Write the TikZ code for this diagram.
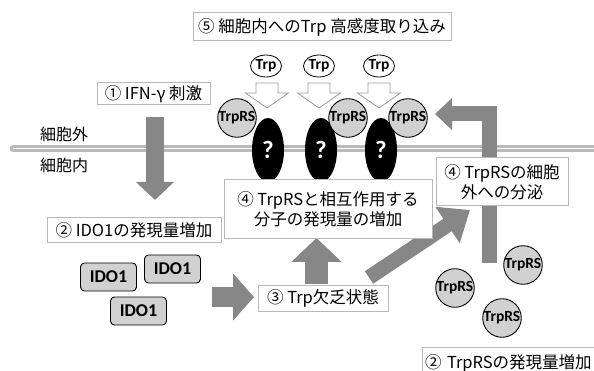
\documentclass[tikz,border=0pt]{standalone}
\usepackage{fontspec}
\setmainfont{Noto Sans CJK JP}
\newfontfamily\labfont{Carlito}
\usetikzlibrary{arrows.meta,shapes.geometric}
\begin{document}
\begin{tikzpicture}[x=1pt,y=-1pt,
  txtbox/.style={draw=black!28, line width=1pt, fill=white, inner sep=0pt,
    font=\fontsize{16.5}{20}\selectfont, align=center},
  trpc/.style={ellipse, draw, line width=0.8pt, fill=white, minimum width=31pt,
    minimum height=22pt, inner sep=0pt, font=\labfont\bfseries\fontsize{15.5}{16}\selectfont},
  rs/.style={circle, draw, line width=0.9pt, fill=black!18, minimum size=#1,
    inner sep=0pt, font=\labfont\bfseries\fontsize{15.5}{16}\selectfont},
  rs/.default=38pt,
  qmark/.style={ellipse, fill=black, minimum width=32pt, minimum height=64pt,
    inner sep=0pt, text=white, font=\labfont\bfseries\fontsize{25}{27}\selectfont},
  ido/.style={rectangle, rounded corners=4pt, draw, line width=0.9pt, fill=black!18,
    minimum width=56pt, minimum height=28pt, inner sep=0pt,
    font=\labfont\bfseries\fontsize{18}{19}\selectfont},
  hollow/.style={draw=black!40, line width=0.8pt, fill=white},
  blk/.style={draw=black!47, line width=#1},
  sidelab/.style={inner sep=0pt, font=\fontsize{16}{18}\selectfont}
]
\clip (0,0) rectangle (594,371);
\fill[white] (0,0) rectangle (594,371);

% membrane
\coordinate (mL) at (13,148.5);
\coordinate (mR) at (610,148.5);
\draw[black!27, line width=7pt, line cap=round] (mL) -- (mR);
\draw[white, line width=1.8pt] (mL) -- (mR);

\node[sidelab] (out) at (64,134) {細胞外};
\node[sidelab] (in) at (64,165) {細胞内};

% IFN arrow
\node[txtbox, minimum width=113pt, minimum height=22pt] (b1) at (153.5,94) {① IFN-γ 刺激};
\coordinate (ifnA) at (155,117);
\coordinate (ifnB) at (155,200);
\draw[blk=18pt, -{Triangle[length=18pt,width=37pt]}] (ifnA) -- (ifnB);

% unknown molecules
\node[qmark] (q1) at (268,150) {?};
\node[qmark] (q2) at (321,150) {?};
\node[qmark] (q3) at (381,150) {?};

% TrpRS on membrane
\node[rs] (r1) at (237,118) {TrpRS};
\node[rs] (r2) at (348,118) {TrpRS};
\node[rs] (r3) at (408,118) {TrpRS};

% Trp
\node[trpc] (t1) at (266,66) {Trp};
\node[trpc] (t2) at (319,66) {Trp};
\node[trpc] (t3) at (379,66) {Trp};
\foreach \x in {267,319,379}{
  \draw[hollow] (\x-11,83) -- (\x+11,83) -- (\x+11,93) -- (\x+21.5,93) -- (\x,108)
     -- (\x-21.5,93) -- (\x-11,93) -- cycle;
}

% top box
\node[txtbox, minimum width=258pt, minimum height=28pt] (b5) at (322,27) {⑤ 細胞内へのTrp 高感度取り込み};

% IDO1
\node[txtbox, minimum width=174pt, minimum height=25pt] (b2) at (134,230.5) {② IDO1の発現量増加};
\node[ido] (i1) at (108.5,277) {IDO1};
\node[ido] (i2) at (172.5,269) {IDO1};
\node[ido] (i3) at (138.5,311) {IDO1};

\coordinate (raA) at (212,297);
\coordinate (raB) at (254,297);
\draw[blk=20pt, -{Triangle[length=21pt,width=46pt]}] (raA) -- (raB);

\node[txtbox, minimum width=130pt, minimum height=26pt] (b3) at (323,298) {③ Trp欠乏状態};

\coordinate (uaA) at (316.5,284);
\coordinate (uaB) at (316.5,238);
\draw[blk=23pt, -{Triangle[length=24pt,width=49pt]}] (uaA) -- (uaB);

\coordinate (daA) at (369,277.5);
\coordinate (daB) at (470,210);
\draw[blk=15pt, -{Triangle[length=27pt,width=42pt]}] (daA) -- (daB);

% secretion bent arrow
\coordinate (baA) at (489.5,263);
\coordinate (baB) at (435,114);
\draw[blk=15pt, -{Triangle[length=17pt,width=31pt]}] (baA) |- (baB);

\node[txtbox, minimum width=208pt, minimum height=59pt] (b4) at (328,209.5) {④ TrpRSと相互作用する\\ 分子の発現量の増加};
\node[txtbox, minimum width=132pt, minimum height=48pt] (b4s) at (502,182) {④ TrpRSの細胞\\外への分泌};

% cytosolic TrpRS
\node[rs=37pt] (c1) at (523,265) {TrpRS};
\node[rs=37pt] (c2) at (455,288) {TrpRS};
\node[rs=37pt] (c3) at (502,318) {TrpRS};

\node[txtbox, minimum width=190pt, minimum height=32pt, anchor=north west, align=left,
  text width=185pt] (b2t) at (422,347) {② TrpRSの発現量増加};
\end{tikzpicture}
\end{document}
